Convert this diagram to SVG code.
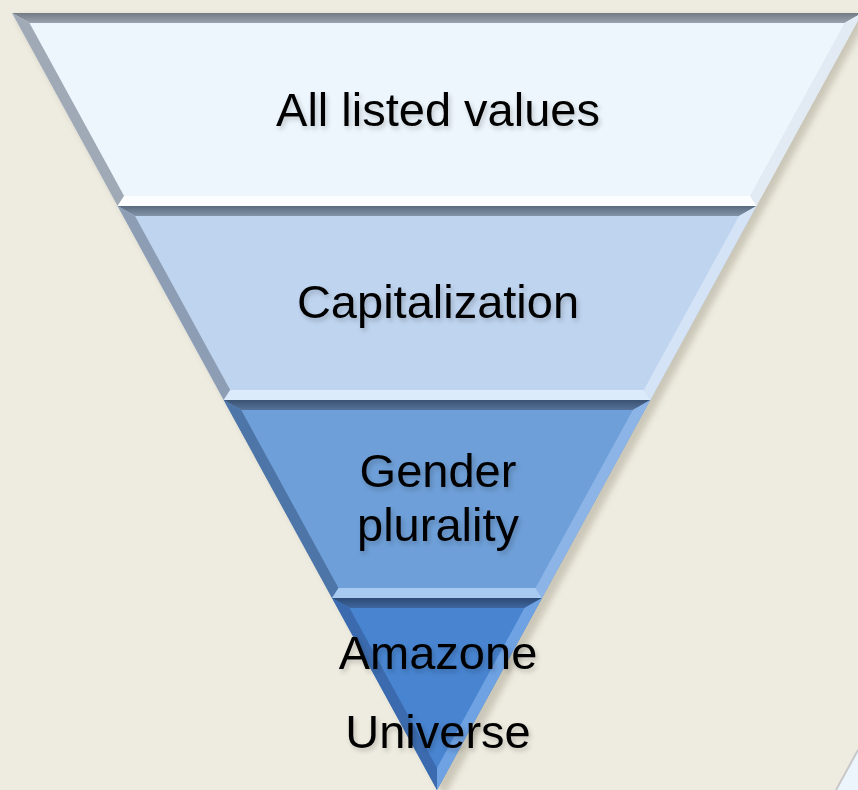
<svg xmlns="http://www.w3.org/2000/svg" width="858" height="790" viewBox="0 0 858 790">
<defs>
<style>
.lbl{font-family:"Liberation Sans",Arial,sans-serif;font-size:47px;fill:#000;text-anchor:middle;filter:url(#tsh)}
</style>
<filter id="tsh" x="-10%" y="-30%" width="120%" height="160%">
<feGaussianBlur in="SourceAlpha" stdDeviation="2.5"/>
<feOffset dx="2" dy="3" result="b"/>
<feComponentTransfer><feFuncA type="linear" slope="0.2"/></feComponentTransfer>
<feMerge><feMergeNode/><feMergeNode in="SourceGraphic"/></feMerge>
</filter>
<filter id="shsh" x="-5%" y="-5%" width="110%" height="110%">
<feGaussianBlur stdDeviation="3"/>
</filter>
<linearGradient id="t1" x1="0" y1="0" x2="0" y2="1"><stop offset="0" stop-color="#737b85"/><stop offset="1" stop-color="#9aa3ae"/></linearGradient>
<linearGradient id="t2" x1="0" y1="0" x2="0" y2="1"><stop offset="0" stop-color="#5a6b80"/><stop offset="1" stop-color="#8494a8"/></linearGradient>
<linearGradient id="t3" x1="0" y1="0" x2="0" y2="1"><stop offset="0" stop-color="#3a5272"/><stop offset="1" stop-color="#56729a"/></linearGradient>
<linearGradient id="t4" x1="0" y1="0" x2="0" y2="1"><stop offset="0" stop-color="#2c4a74"/><stop offset="1" stop-color="#3f66a0"/></linearGradient>
</defs>
<rect width="858" height="790" fill="#eeebe0"/>
<polygon points="12,13 866,13 441,794" fill="#8a8570" opacity="0.35" filter="url(#shsh)" transform="translate(3,3)"/>

<g id="band1">
<polygon points="12,13 862,13 756.4,206 117.6,206" fill="#edf6fd"/>
<polygon points="12,13 862,13 844.5,23 29.5,23" fill="url(#t1)"/>
<polygon points="12,13 29.5,23 124.1,196 117.6,206" fill="#a0aab7"/>
<polygon points="862,13 756.4,206 749.9,196 844.5,23" fill="#e2eaf4"/>
<polygon points="117.6,206 124.1,196 749.9,196 756.4,206" fill="#fbfdff"/>
<text class="lbl" x="438" y="126">All listed values</text>
</g>

<g id="band2">
<polygon points="117.6,206 756.4,206 650.3,400 223.7,400" fill="#bfd4ef"/>
<polygon points="117.6,206 756.4,206 739,216 135,216" fill="url(#t2)"/>
<polygon points="117.6,206 135,216 230.2,390 223.7,400" fill="#8c9db4"/>
<polygon points="756.4,206 650.3,400 643.8,390 739,216" fill="#d4e3f6"/>
<polygon points="223.7,400 230.2,390 643.8,390 650.3,400" fill="#dcebfb"/>
<text class="lbl" x="438" y="318">Capitalization</text>
</g>

<g id="band3">
<polygon points="223.7,400 650.3,400 542,598 332,598" fill="#6e9fd8"/>
<polygon points="223.7,400 650.3,400 632.8,410 241.2,410" fill="url(#t3)"/>
<polygon points="223.7,400 241.2,410 338.5,588 332,598" fill="#4e75a7"/>
<polygon points="650.3,400 542,598 535.5,588 632.8,410" fill="#8cb4e6"/>
<polygon points="332,598 338.5,588 535.5,588 542,598" fill="#a8c9f0"/>
<text class="lbl" x="438" y="487">Gender</text>
<text class="lbl" x="438" y="541">plurality</text>
</g>

<g id="band4">
<polygon points="332,598 542,598 437,790" fill="#4884d0"/>
<polygon points="332,598 542,598 524.5,608 349.5,608" fill="url(#t4)"/>
<polygon points="332,598 349.5,608 437,768 437,790" fill="#3b6bae"/>
<polygon points="542,598 437,790 437,768 524.5,608" fill="#6ea2e3"/>
<text class="lbl" x="438" y="669">Amazone</text>
<text class="lbl" x="438" y="748">Universe</text>
</g>

<g id="corner">
<polygon points="858,750 836,790 858,790" fill="#edf5fc"/>
<line x1="858" y1="750" x2="836" y2="790" stroke="#c8c8c8" stroke-width="2"/>
</g>
</svg>
